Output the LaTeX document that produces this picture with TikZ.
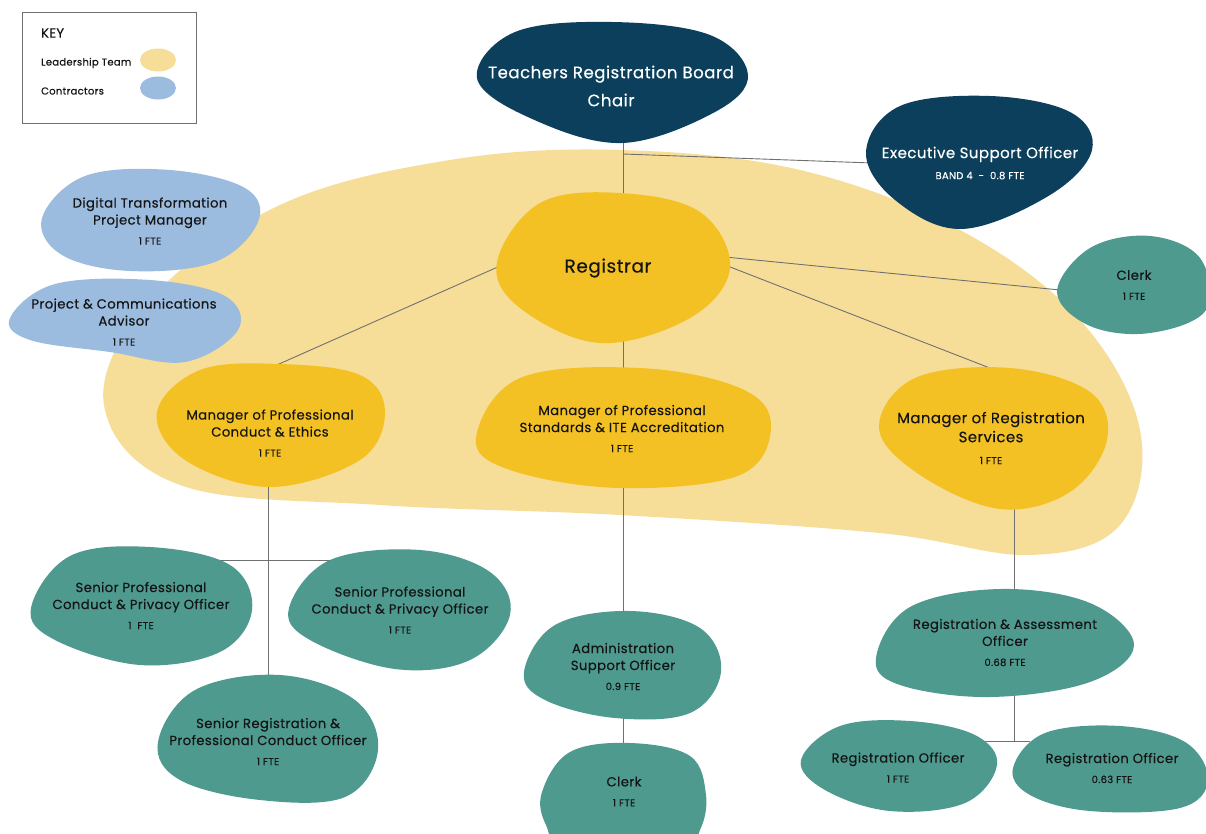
\documentclass[tikz,border=0pt]{standalone}
\usepackage{fontspec}
\setmainfont{Poppins}[LetterSpace=3, FakeBold=0.35]
\definecolor{navyblob}{HTML}{0B3F5C}
\definecolor{tealblob}{HTML}{4E9A8F}
\definecolor{goldblob}{HTML}{F4C125}
\definecolor{paleblob}{HTML}{F7DE98}
\definecolor{skyblob}{HTML}{9BBCDF}
\definecolor{linegray}{HTML}{707070}
\definecolor{inkcol}{HTML}{141414}
\newcommand\ftesize{\fontsize{10}{12}\selectfont}
\tikzset{
  lbl/.style={inner sep=0pt, align=center, text=inkcol, font=\fontsize{13.2}{17}\selectfont},
  lblw/.style={lbl, text=white},
  conn/.style={draw=linegray, line width=0.9pt},
  blobshape/.style={smooth cycle, tension=0.62},
}
\begin{document}
\begin{tikzpicture}[x=1pt,y=-1pt]
\fill[white] (0,0) rectangle (1206,833);
\useasboundingbox (0,0) rectangle (1206,833);

% big leadership area
\fill[paleblob] plot[blobshape] coordinates {(104,405) (150,300) (280,205) (450,160) (620,150) (800,170) (960,230) (1080,320) (1140,430) (1120,525) (1030,555) (880,533) (620,515) (380,505) (180,485)};

% connector coordinates
\coordinate (chairB) at (623,140);
\coordinate (regT) at (623,200);
\coordinate (jE) at (623,154);
\coordinate (execL) at (872,163);
\coordinate (regR1) at (725,257);
\coordinate (clerkL) at (1060,290);
\coordinate (regR2) at (725,265);
\coordinate (mrsT) at (995,370);
\coordinate (regL) at (500,266);
\coordinate (mpcT) at (270,368);
\coordinate (regB) at (623,338);
\coordinate (mpsT) at (623,370);
\coordinate (mpcB) at (268,485);
\coordinate (srT) at (268,678);
\coordinate (spcL) at (205,560);
\coordinate (spcR) at (340,560);
\coordinate (mpsB) at (623,486);
\coordinate (admT) at (623,614);
\coordinate (admB) at (623,716);
\coordinate (clkT) at (623,746);
\coordinate (mrsB) at (1014,505);
\coordinate (raT) at (1014,592);
\coordinate (raB) at (1014,694);
\coordinate (roJ) at (1014,741);
\coordinate (roL) at (985,741);
\coordinate (roR) at (1030,741);

\draw[conn] (chairB) -- (regT);
\draw[conn] (jE) -- (execL);
\draw[conn] (regR1) -- (clerkL);
\draw[conn] (regR2) -- (mrsT);
\draw[conn] (regL) -- (mpcT);
\draw[conn] (regB) -- (mpsT);
\draw[conn] (mpcB) -- (srT);
\draw[conn] (spcL) -- (spcR);
\draw[conn] (mpsB) -- (admT);
\draw[conn] (admB) -- (clkT);
\draw[conn] (mrsB) -- (raT);
\draw[conn] (raB) -- (roJ);
\draw[conn] (roL) -- (roR);

% blobs
\fill[navyblob] plot[blobshape] coordinates {(477,78) (515,32) (612,22) (710,35) (748,75) (715,112) (622,143) (530,118)};
\fill[navyblob] plot[blobshape] coordinates {(866,152) (900,106) (990,96) (1070,112) (1092,150) (1050,195) (962,229) (895,200)};
\fill[skyblob] plot[blobshape] coordinates {(42,218) (85,176) (170,170) (245,188) (258,222) (215,262) (130,271) (62,255)};
\fill[skyblob] plot[blobshape] coordinates {(10,318) (55,284) (150,280) (225,296) (238,330) (185,362) (110,352) (30,340)};
\fill[goldblob] plot[blobshape] coordinates {(497,262) (540,203) (620,193) (700,212) (730,268) (690,318) (600,343) (520,308)};
\fill[tealblob] plot[blobshape] coordinates {(1057,292) (1090,248) (1150,236) (1200,258) (1206,310) (1150,333) (1090,326)};
\fill[goldblob] plot[blobshape] coordinates {(157,412) (200,370) (280,364) (360,375) (385,412) (360,460) (270,487) (185,460)};
\fill[goldblob] plot[blobshape] coordinates {(476,438) (520,378) (640,368) (740,388) (771,425) (740,475) (620,488) (510,470)};
\fill[goldblob] plot[blobshape] coordinates {(879,428) (915,378) (1010,368) (1090,392) (1107,440) (1070,492) (1000,509) (920,475)};
\fill[tealblob] plot[blobshape] coordinates {(31,608) (70,556) (150,547) (230,565) (252,610) (220,652) (140,665) (55,640)};
\fill[tealblob] plot[blobshape] coordinates {(289,608) (330,560) (420,550) (490,572) (510,615) (470,660) (395,669) (310,640)};
\fill[tealblob] plot[blobshape] coordinates {(158,742) (195,690) (280,675) (355,700) (378,750) (345,797) (260,800) (180,780)};
\fill[tealblob] plot[blobshape] coordinates {(524,672) (555,625) (630,611) (700,628) (721,672) (690,713) (615,718) (545,700)};
\fill[tealblob] plot[blobshape] coordinates {(542,792) (570,752) (630,743) (690,756) (706,795) (700,830) (680,850) (570,850) (546,825)};
\fill[tealblob] plot[blobshape] coordinates {(876,658) (910,607) (1000,589) (1090,603) (1134,645) (1090,682) (990,697) (900,685)};
\fill[tealblob] plot[blobshape] coordinates {(801,760) (840,726) (910,721) (975,735) (997,765) (965,803) (890,811) (825,790)};
\fill[tealblob] plot[blobshape] coordinates {(1013,768) (1045,733) (1120,726) (1185,742) (1208,780) (1180,808) (1090,811) (1030,795)};

% key
\draw[linegray, line width=0.9pt, fill=white] (22,12) rectangle (196,123);
\fill[paleblob] (158,60) ellipse [x radius=18, y radius=11.5];
\fill[skyblob] (158,88) ellipse [x radius=18, y radius=11.5];
\node[lbl, anchor=west, font=\fontsize{13}{15}\selectfont] (key) at (41,33) {KEY};
\node[lbl, anchor=west, font=\fontsize{10}{12}\selectfont] (keylead) at (41,63) {Leadership Team};
\node[lbl, anchor=west, font=\fontsize{10}{12}\selectfont] (keycon) at (41,91) {Contractors};

% labels
\node[lblw, font=\fontsize{16.6}{28}\selectfont] (chair) at (611,86) {Teachers Registration Board\\Chair};
\node[lblw, font=\fontsize{15}{18}\selectfont] (exec) at (980,163) {Executive Support Officer\\[3pt]{\ftesize BAND 4\ \ -\ \ 0.8 FTE}};
\node[lbl] (dtpm) at (150,221) {Digital Transformation\\Project Manager\\[3pt]{\ftesize 1 FTE}};
\node[lbl] (pca) at (124,322) {Project \& Communications\\Advisor\\[3pt]{\ftesize 1 FTE}};
\node[lbl, font=\fontsize{18.5}{20}\selectfont] (reg) at (608,268) {Registrar};
\node[lbl] (clerkA) at (1134,285) {Clerk\\[3pt]{\ftesize 1 FTE}};
\node[lbl] (mpc) at (270,433) {Manager of Professional\\Conduct \& Ethics\\[3pt]{\ftesize 1 FTE}};
\node[lbl] (mps) at (622,428.5) {Manager of Professional\\Standards \& ITE Accreditation\\[3pt]{\ftesize 1 FTE}};
\node[lbl, font=\fontsize{14.9}{19}\selectfont] (mrs) at (991,438) {Manager of Registration\\Services\\[3pt]{\ftesize 1 FTE}};
\node[lbl] (spcA) at (141,605.5) {Senior Professional\\Conduct \& Privacy Officer\\[3pt]{\ftesize 1\ \ FTE}};
\node[lbl] (spcB) at (400,610) {Senior Professional\\Conduct \& Privacy Officer\\[3pt]{\ftesize 1 FTE}};
\node[lbl] (srpc) at (268,741.5) {Senior Registration \&\\Professional Conduct Officer\\[3pt]{\ftesize 1 FTE}};
\node[lbl] (aso) at (623,666.5) {Administration\\Support Officer\\[3pt]{\ftesize 0.9 FTE}};
\node[lbl] (clerkB) at (624,791.5) {Clerk\\[3pt]{\ftesize 1 FTE}};
\node[lbl] (rao) at (1005,642.5) {Registration \& Assessment\\Officer\\[3pt]{\ftesize 0.68 FTE}};
\node[lbl] (roA) at (898,767.5) {Registration Officer\\[3pt]{\ftesize 1 FTE}};
\node[lbl] (roB) at (1112,768) {Registration Officer\\[3pt]{\ftesize 0.63 FTE}};
\end{tikzpicture}
\end{document}
